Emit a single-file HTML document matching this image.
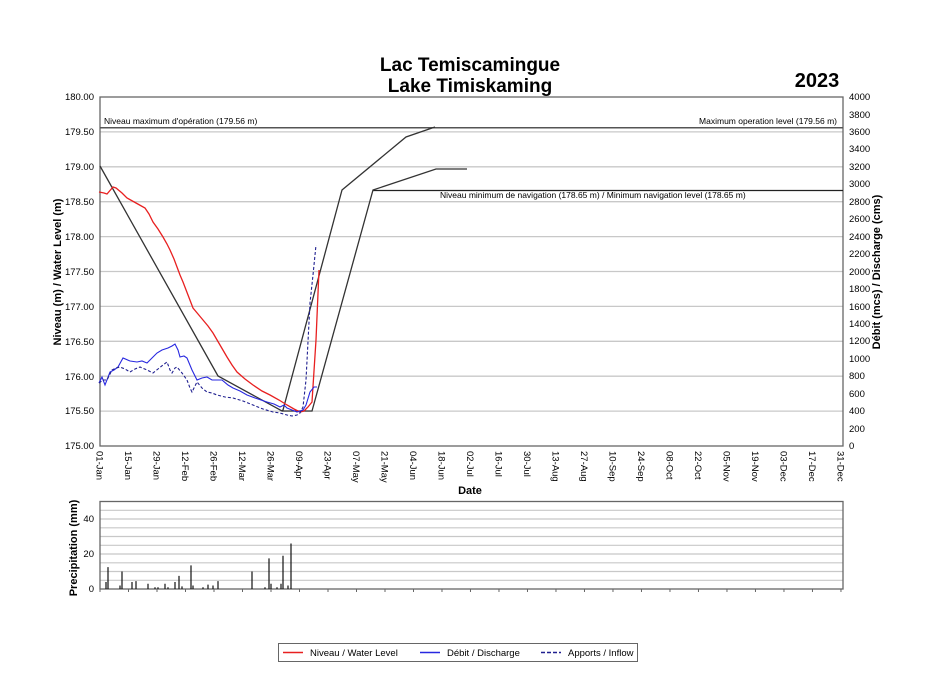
<!DOCTYPE html>
<html><head><meta charset="utf-8"><style>
body{margin:0;background:#fff}
svg{display:block;font-family:"Liberation Sans",Arial,sans-serif}
</style></head><body>
<svg width="927" height="700" viewBox="0 0 927 700">
<rect width="927" height="700" fill="#fff"/>
<text x="470" y="71" font-size="19" font-weight="bold" text-anchor="middle">Lac Temiscamingue</text>
<text x="470" y="92" font-size="19" font-weight="bold" text-anchor="middle">Lake Timiskaming</text>
<text x="817" y="87" font-size="20" font-weight="bold" text-anchor="middle">2023</text>
<g id="grid" stroke="#c8c8c8" stroke-width="1.3">
<line x1="100" x2="843" y1="131.9" y2="131.9"/><line x1="100" x2="843" y1="166.8" y2="166.8"/>
<line x1="100" x2="843" y1="201.7" y2="201.7"/><line x1="100" x2="843" y1="236.6" y2="236.6"/>
<line x1="100" x2="843" y1="271.5" y2="271.5"/><line x1="100" x2="843" y1="306.4" y2="306.4"/>
<line x1="100" x2="843" y1="341.3" y2="341.3"/><line x1="100" x2="843" y1="376.2" y2="376.2"/>
<line x1="100" x2="843" y1="411.1" y2="411.1"/>
</g>
<rect x="100" y="97" width="743" height="349" fill="none" stroke="#666" stroke-width="1.3"/>
<g font-size="9.5" text-anchor="end">
<text x="94" y="100">180.00</text><text x="94" y="135">179.50</text><text x="94" y="170">179.00</text>
<text x="94" y="205">178.50</text><text x="94" y="240">178.00</text><text x="94" y="275">177.50</text>
<text x="94" y="310">177.00</text><text x="94" y="345">176.50</text><text x="94" y="380">176.00</text>
<text x="94" y="414">175.50</text><text x="94" y="449">175.00</text>
</g>
<g font-size="9.5">
<text x="849" y="100">4000</text><text x="849" y="118">3800</text><text x="849" y="135">3600</text>
<text x="849" y="152">3400</text><text x="849" y="170">3200</text><text x="849" y="187">3000</text>
<text x="849" y="205">2800</text><text x="849" y="222">2600</text><text x="849" y="240">2400</text>
<text x="849" y="257">2200</text><text x="849" y="275">2000</text><text x="849" y="292">1800</text>
<text x="849" y="310">1600</text><text x="849" y="327">1400</text><text x="849" y="344">1200</text>
<text x="849" y="362">1000</text><text x="849" y="379">800</text><text x="849" y="397">600</text>
<text x="849" y="414">400</text><text x="849" y="432">200</text><text x="849" y="449">0</text>
</g>
<text transform="translate(61,272) rotate(-90)" font-size="11" font-weight="bold" text-anchor="middle">Niveau (m) / Water Level (m)</text>
<text transform="translate(880,272) rotate(-90)" font-size="11" font-weight="bold" text-anchor="middle">Débit (mcs) / Discharge (cms)</text>
<g id="xt" font-size="9.5"></g>
<text x="470" y="494" font-size="11" font-weight="bold" text-anchor="middle">Date</text>
<!-- reference lines -->
<line x1="100" x2="843" y1="127.7" y2="127.7" stroke="#555" stroke-width="1.5"/>
<line x1="373" x2="843" y1="190.5" y2="190.5" stroke="#222" stroke-width="1.2"/>
<text x="104" y="124" font-size="8.5">Niveau maximum d'opération (179.56 m)</text>
<text x="837" y="124" font-size="8.5" text-anchor="end">Maximum operation level (179.56 m)</text>
<text x="440" y="198" font-size="8.5">Niveau minimum de navigation (178.65 m) / Minimum navigation level (178.65 m)</text>
<polyline fill="none" stroke="#333" stroke-width="1.3" points="100,166 218,376 282,411 283,410 342,190 406,137 435,127"/>
<polyline fill="none" stroke="#333" stroke-width="1.3" points="282,411 312,411 373,190 436,169 467,169"/>
<polyline fill="none" stroke="#e82020" stroke-width="1.3" points="99,192 104,193 107,194 113,187 116,188 122,193 127,198 136,203 145,208 149,214 153,222 158,229 163,237 167,244 170,250 174,259 177,267 180,275 183,282 188,295 193,308 198,314 203,320 208,326 213,333 220,345 227,357 232,365 237,372 245,379 253,385 262,391 270,395 279,400 287,405 294,409 300,412 304,411 308,407 312,402 316,340 319,270"/>
<polyline fill="none" stroke="#2828e0" stroke-width="1.1" points="99,383 102,377 105,385 110,372 114,370 118,367 123,358 130,361 137,362 142,361 147,363 152,358 157,353 162,350 168,348 172,346 175,344 178,350 180,357 184,356 187,358 192,370 197,380 202,378 207,377 212,380 217,380 222,380 228,385 233,388 240,391 247,395 255,398 261,400 267,402 274,404 280,407 284,405 287,408 292,410 297,412 300,411 303,410 306,405 310,392 314,387 317,387"/>
<polyline fill="none" stroke="#202090" stroke-width="1.1" stroke-dasharray="3,2" points="99,383 103,380 107,380 112,370 116,368 120,367 125,369 130,372 135,369 140,367 147,370 153,373 158,369 163,365 167,362 170,370 172,373 175,368 177,367 182,373 187,380 190,388 192,392 195,386 197,382 202,388 207,392 212,393 217,395 225,397 233,398 243,401 253,405 263,409 273,412 280,413 287,415 292,416 297,415 300,413 303,407 306,380 310,303 313,275 316,245"/>
<!-- precip -->
<g stroke="#c8c8c8" stroke-width="1.2">
<line x1="100" x2="843" y1="510.3" y2="510.3"/><line x1="100" x2="843" y1="519" y2="519"/>
<line x1="100" x2="843" y1="527.8" y2="527.8"/><line x1="100" x2="843" y1="536.5" y2="536.5"/>
<line x1="100" x2="843" y1="545.3" y2="545.3"/><line x1="100" x2="843" y1="554" y2="554"/>
<line x1="100" x2="843" y1="562.8" y2="562.8"/><line x1="100" x2="843" y1="571.5" y2="571.5"/>
<line x1="100" x2="843" y1="580.3" y2="580.3"/>
</g>
<rect x="100" y="501.5" width="743" height="87.5" fill="none" stroke="#666" stroke-width="1.3"/>
<g font-size="9.5" text-anchor="end"><text x="94" y="522">40</text><text x="94" y="557">20</text><text x="94" y="592">0</text></g>
<text transform="translate(77,548) rotate(-90)" font-size="11" font-weight="bold" text-anchor="middle">Precipitation (mm)</text>
<g id="pb" stroke="#111" stroke-width="1.2"></g>
<g id="pt" stroke="#666" stroke-width="1"></g>
<!-- legend -->
<rect x="278.5" y="643.5" width="359" height="18" fill="#fff" stroke="#666"/>
<line x1="283" x2="303" y1="652.5" y2="652.5" stroke="#e82020" stroke-width="1.5"/>
<text x="310" y="656" font-size="9.5">Niveau / Water Level</text>
<line x1="420" x2="440" y1="652.5" y2="652.5" stroke="#2828e0" stroke-width="1.5"/>
<text x="447" y="656" font-size="9.5">Débit / Discharge</text>
<line x1="541" x2="561" y1="652.5" y2="652.5" stroke="#202090" stroke-width="1.5" stroke-dasharray="4,2"/>
<text x="568" y="656" font-size="9.5">Apports / Inflow</text>
</svg>
<script>
var ns="http://www.w3.org/2000/svg";
var labs=["01-Jan","15-Jan","29-Jan","12-Feb","26-Feb","12-Mar","26-Mar","09-Apr","23-Apr","07-May","21-May","04-Jun","18-Jun","02-Jul","16-Jul","30-Jul","13-Aug","27-Aug","10-Sep","24-Sep","08-Oct","22-Oct","05-Nov","19-Nov","03-Dec","17-Dec","31-Dec"];
var xt=document.getElementById("xt"),pt=document.getElementById("pt");
labs.forEach(function(l,i){var x=100+i*14*743/365;
var t=document.createElementNS(ns,"text");t.setAttribute("transform","translate("+(x-3.5)+",451) rotate(90)");t.textContent=l;xt.appendChild(t);
var k=document.createElementNS(ns,"line");k.setAttribute("x1",x);k.setAttribute("x2",x);k.setAttribute("y1",589);k.setAttribute("y2",592);pt.appendChild(k);});
var bars=[[106,4],[108,12.5],[120,2],[122,10],[132,4],[136,4.5],[148,3],[155,1],[158,1],[165,3],[168,1],[175,4],[179,7.5],[182,1.5],[191,13.5],[193,2],[203,1],[208,2.5],[213,2],[218,4.5],[252,10],[265,1],[269,17.5],[271,3],[277,1],[281,3],[283,19],[288,2],[291,26]];
var pb=document.getElementById("pb");
bars.forEach(function(b){var k=document.createElementNS(ns,"line");k.setAttribute("x1",b[0]);k.setAttribute("x2",b[0]);k.setAttribute("y1",589);k.setAttribute("y2",589-b[1]*1.75);pb.appendChild(k);});
</script>
</body></html>
